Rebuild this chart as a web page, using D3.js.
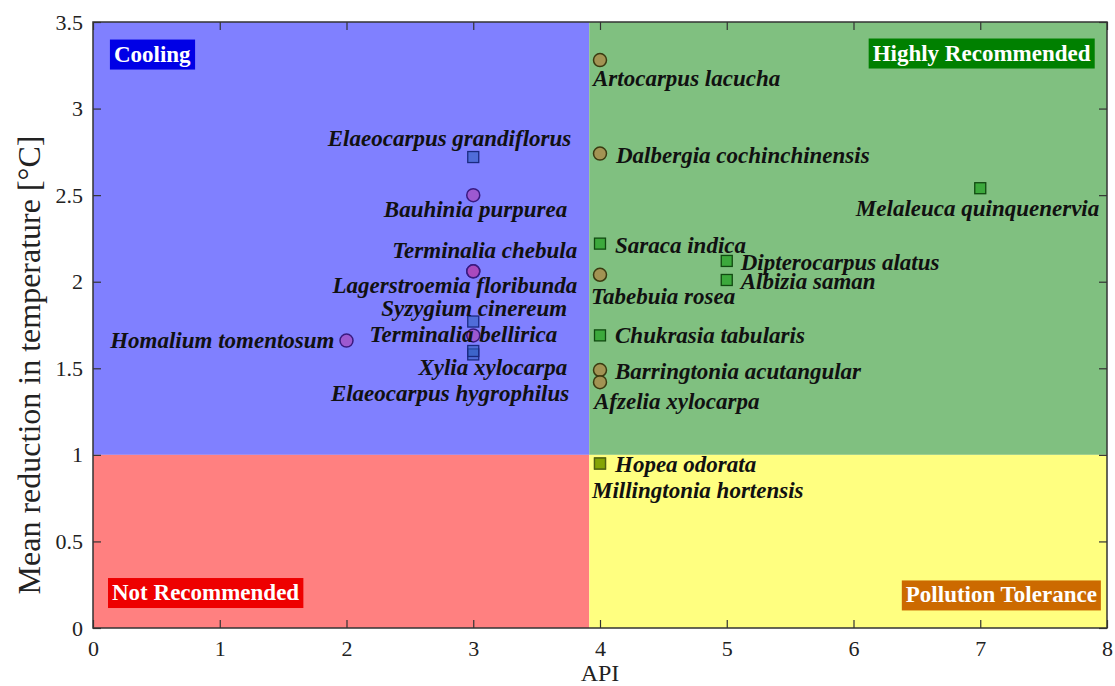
<!DOCTYPE html>
<html>
<head>
<meta charset="utf-8">
<script src="https://cdn.jsdelivr.net/npm/d3@7"></script>
<style>
  body { margin: 0; background: #fff; }
  text { font-family: "Liberation Serif", "Times New Roman", serif; }
</style>
</head>
<body>
<div id="chart"></div>
<script>
// data
var species = [
  "Elaeocarpus grandiflorus", "Bauhinia purpurea", "Terminalia chebula",
  "Lagerstroemia floribunda", "Syzygium cinereum", "Terminalia bellirica",
  "Elaeocarpus hygrophilus", "Xylia xylocarpa", "Homalium tomentosum",
  "Artocarpus lacucha", "Dalbergia cochinchinensis", "Melaleuca quinquenervia",
  "Saraca indica", "Dipterocarpus alatus", "Albizia saman", "Tabebuia rosea",
  "Chukrasia tabularis", "Barringtonia acutangular", "Afzelia xylocarpa",
  "Millingtonia hortensis", "Hopea odorata"
]
var apiValues = [3, 3, 3, 3, 3, 3, 3, 3, 2, 4, 4, 7, 4, 5, 5, 4, 4, 4, 4, 4, 4]
var tempReduction = [2.72, 2.5, 2.06, 2.06, 1.77, 1.69, 1.58, 1.6, 1.66,
  3.28, 2.74, 2.54, 2.22, 2.12, 2.01, 2.04, 1.69, 1.49, 1.42, 0.95, 0.95]
var markerGroup = ["blueSq", "purple", "purple", "purple", "blueSq", "purple",
  "blueSq", "blueSq", "purple", "olive", "olive", "greenSq", "greenSq", "greenSq",
  "greenSq", "olive", "greenSq", "olive", "olive", "limeSq", "limeSq"]

var xTicks = [0, 1, 2, 3, 4, 5, 6, 7, 8]
var yTicks = [0, 0.5, 1, 1.5, 2, 2.5, 3, 3.5]
var apiSplit = 3.915, tempSplit = 1

var zoneNames = ["Cooling", "Highly Recommended", "Not Recommended", "Pollution Tolerance"]

// label placement, in pixels from the marker
var labelLayout = [
  ["end", 98, -11], ["end", 94, 22], ["end", 104, -13], ["end", 104, 22],
  ["end", 94, -6], ["end", 84, 7], ["end", 96, 47], ["end", 94, 24],
  ["end", -12, 7], ["start", -7, 26], ["start", 16, 9], ["end", 119, 28],
  ["start", 15, 9], ["start", 14, 9], ["start", 14, 9], ["start", -9, 29],
  ["start", 15, 8], ["start", 15, 9], ["start", -6, 27], ["start", -8, 34],
  ["start", 15, 8]
]

var styles = {
  purple:  { shape: "circle", fill: "#b040b0", stroke: "#3a1a80", op: 0.6 },
  blueSq:  { shape: "square", fill: "#3060c0", stroke: "#1a2a80", op: 0.6 },
  olive:   { shape: "circle", fill: "#b08040", stroke: "#3a3a10", op: 0.7 },
  greenSq: { shape: "square", fill: "#20a020", stroke: "#104a10", op: 0.7 },
  limeSq:  { shape: "square", fill: "#80a000", stroke: "#506010", op: 0.8 }
}

var W = 1115, H = 686
var margin = { top: 22, right: 8, bottom: 58, left: 93 }
var w = W - margin.left - margin.right, h = H - margin.top - margin.bottom

var svg = d3.select("#chart").append("svg")
    .attr("width", W).attr("height", H)
var g = svg.append("g")
    .attr("transform", "translate(" + margin.left + "," + margin.top + ")")

var x = d3.scaleLinear().domain([0, 8]).range([0, w])
var y = d3.scaleLinear().domain([0, 3.5]).range([h, 0])

// quadrant backgrounds
var zones = [
  { x0: 0, x1: apiSplit, y0: tempSplit, y1: 3.5, fill: "#8080ff" },
  { x0: apiSplit, x1: 8, y0: tempSplit, y1: 3.5, fill: "#80c080" },
  { x0: 0, x1: apiSplit, y0: 0, y1: tempSplit, fill: "#ff8080" },
  { x0: apiSplit, x1: 8, y0: 0, y1: tempSplit, fill: "#ffff80" }
]
g.selectAll("rect.zone").data(zones).enter().append("rect")
    .attr("class", "zone")
    .attr("x", function (d) { return x(d.x0) })
    .attr("y", function (d) { return y(d.y1) })
    .attr("width", function (d) { return x(d.x1) - x(d.x0) })
    .attr("height", function (d) { return y(d.y0) - y(d.y1) })
    .attr("fill", function (d) { return d.fill })

// axes with inward ticks, mirrored on top/right
var tickLen = 8
g.append("g").attr("transform", "translate(0," + h + ")")
    .call(d3.axisBottom(x).tickValues(xTicks).tickSizeInner(-tickLen).tickSizeOuter(0).tickPadding(12))
g.append("g")
    .call(d3.axisLeft(y).tickValues(yTicks).tickFormat(d3.format("")).tickSizeInner(-tickLen).tickSizeOuter(0).tickPadding(10))
g.append("g")
    .call(d3.axisTop(x).tickValues(xTicks).tickSizeInner(-tickLen).tickSizeOuter(0).tickFormat(""))
g.append("g").attr("transform", "translate(" + w + ",0)")
    .call(d3.axisRight(y).tickValues(yTicks).tickSizeInner(-tickLen).tickSizeOuter(0).tickFormat(""))
g.selectAll(".domain").remove()
g.selectAll(".tick line").attr("stroke", "#333").attr("stroke-width", 1.2)
g.selectAll(".tick text")
    .attr("font-family", "Liberation Serif").attr("font-size", 22).attr("fill", "#222")
g.append("rect").attr("width", w).attr("height", h)
    .attr("fill", "none").attr("stroke", "#333").attr("stroke-width", 1.5)

// axis titles
svg.append("text")
    .attr("x", margin.left + x(4)).attr("y", 681)
    .attr("text-anchor", "middle").attr("font-size", 24).attr("fill", "#222")
    .text("API")
svg.append("text")
    .attr("transform", "translate(40,365) rotate(-90)")
    .attr("text-anchor", "middle").attr("font-size", 32).attr("fill", "#222")
    .text("Mean reduction in temperature [°C]")

// zone labels
var zoneBoxes = [
  { cx: 0.165, cy: 3.312, anchor: "start", bg: "#0000e6" },
  { cx: 7.87, cy: 3.318, anchor: "end", bg: "#008000" },
  { cx: 0.15, cy: 0.202, anchor: "start", bg: "#ee0000" },
  { cx: 7.92, cy: 0.188, anchor: "end", bg: "#cc6a00" }
]
zoneNames.forEach(function (name, i) {
  var b = zoneBoxes[i]
  var zg = g.append("g")
  var t = zg.append("text")
      .attr("x", x(b.cx)).attr("y", y(b.cy) + 7)
      .attr("text-anchor", b.anchor)
      .attr("font-size", 23).attr("font-weight", "bold")
      .attr("fill", "#fff")
      .text(name)
  var bb = t.node().getBBox()
  zg.insert("rect", "text")
      .attr("x", bb.x - 4).attr("y", y(b.cy) - 15)
      .attr("width", bb.width + 8).attr("height", 30)
      .attr("fill", b.bg)
})

// markers
var pts = species.map(function (s, i) {
  return { name: s, api: apiValues[i], temp: tempReduction[i], grp: markerGroup[i], lay: labelLayout[i] }
})
var sq = 11, r = 6.5
pts.forEach(function (d) {
  var st = styles[d.grp]
  var px = x(d.api), py = y(d.temp)
  if (st.shape === "circle") {
    g.append("circle").attr("cx", px).attr("cy", py).attr("r", r)
        .attr("fill", st.fill).attr("fill-opacity", st.op)
        .attr("stroke", st.stroke).attr("stroke-width", 1.5)
  } else {
    g.append("rect").attr("x", px - sq / 2).attr("y", py - sq / 2)
        .attr("width", sq).attr("height", sq)
        .attr("fill", st.fill).attr("fill-opacity", st.op)
        .attr("stroke", st.stroke).attr("stroke-width", 1.3)
  }
})

// species labels
g.selectAll("text.lbl").data(pts).enter().append("text")
    .attr("class", "lbl")
    .attr("x", function (d) { return x(d.api) + d.lay[1] })
    .attr("y", function (d) { return y(d.temp) + d.lay[2] })
    .attr("text-anchor", function (d) { return d.lay[0] })
    .attr("font-size", 23).attr("font-weight", "bold").attr("font-style", "italic")
    .attr("fill", "#111")
    .text(function (d) { return d.name })
</script>
</body>
</html>
